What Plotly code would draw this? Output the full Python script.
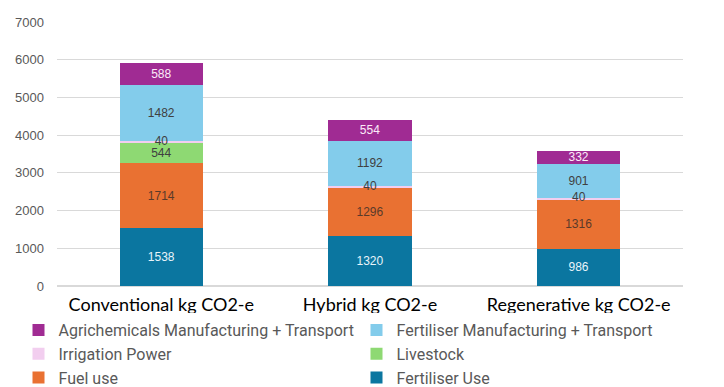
import plotly.graph_objects as go

categories = ["Conventional kg CO2-e", "Hybrid kg CO2-e", "Regenerative kg CO2-e"]

fertiliser_use = [1538, 1320, 986]
fuel_use = [1714, 1296, 1316]
livestock = [544, 0, 0]
irrigation_power = [40, 40, 40]
fertiliser_mfg = [1482, 1192, 901]
agrichemicals_mfg = [588, 554, 332]

y_ticks = [0, 1000, 2000, 3000, 4000, 5000, 6000, 7000]

series = [
    ("Fertiliser Use", fertiliser_use, "#0B76A0", "#E8F4FA"),
    ("Fuel use", fuel_use, "#E97132", "#5A3A2A"),
    ("Livestock", livestock, "#8ED973", "#404040"),
    ("Irrigation Power", irrigation_power, "#F2CEEF", "#404040"),
    ("Fertiliser Manufacturing + Transport", fertiliser_mfg, "#83CCEB", "#404040"),
    ("Agrichemicals Manufacturing + Transport", agrichemicals_mfg, "#A02B93", "#FBEAF8"),
]

label_font = "Liberation Sans, Arial, sans-serif"

fig = go.Figure()
for name, vals, color, tcolor in series:
    is_irr = name == "Irrigation Power"
    fig.add_trace(go.Bar(
        name=name,
        x=categories,
        y=vals,
        marker=dict(color=color, line=dict(width=0)),
        text=None if is_irr else [str(v) if v else "" for v in vals],
        textposition="none" if is_irr else "inside",
        insidetextanchor="middle",
        textangle=0,
        textfont=dict(color=tcolor, size=12, family=label_font),
        hoverinfo="skip",
    ))

# label for the thin irrigation segment, drawn on top of the stack
irr_mid = [f + u + l + i / 2 for f, u, l, i in zip(fertiliser_use, fuel_use, livestock, irrigation_power)]
fig.add_trace(go.Scatter(
    x=categories,
    y=irr_mid,
    mode="text",
    text=[str(v) for v in irrigation_power],
    textposition="middle center",
    textfont=dict(color="#404040", size=12, family=label_font),
    showlegend=False,
    hoverinfo="skip",
))

# the page body adds an 8px margin, so the figure is sized to the visible area
fig.update_layout(
    barmode="stack",
    bargap=0.6,
    width=716,
    height=379,
    margin=dict(l=49, r=41, t=14, b=101, autoexpand=False),
    paper_bgcolor="white",
    plot_bgcolor="white",
    uniformtext=dict(minsize=12, mode="show"),
    legend=dict(
        orientation="h",
        traceorder="reversed",
        x=-0.0615,
        xanchor="left",
        y=-0.1022,
        yanchor="top",
        entrywidth=293,
        font=dict(size=16, color="#595959", family="Roboto, sans-serif"),
        itemwidth=30,
        tracegroupgap=0,
    ),
    xaxis=dict(
        showgrid=False,
        showline=False,
        tickfont=dict(size=18, color="#000000", family="Lato, Roboto, sans-serif"),
        ticklabelstandoff=6,
    ),
    yaxis=dict(
        range=[0, 7000],
        tickvals=y_ticks,
        showgrid=True,
        gridcolor="#D9D9D9",
        gridwidth=1,
        zeroline=True,
        zerolinecolor="#D9D9D9",
        tickfont=dict(size=13, color="#595959", family=label_font),
        ticklabelstandoff=12,
    ),
)

fig.write_html("out.html")
